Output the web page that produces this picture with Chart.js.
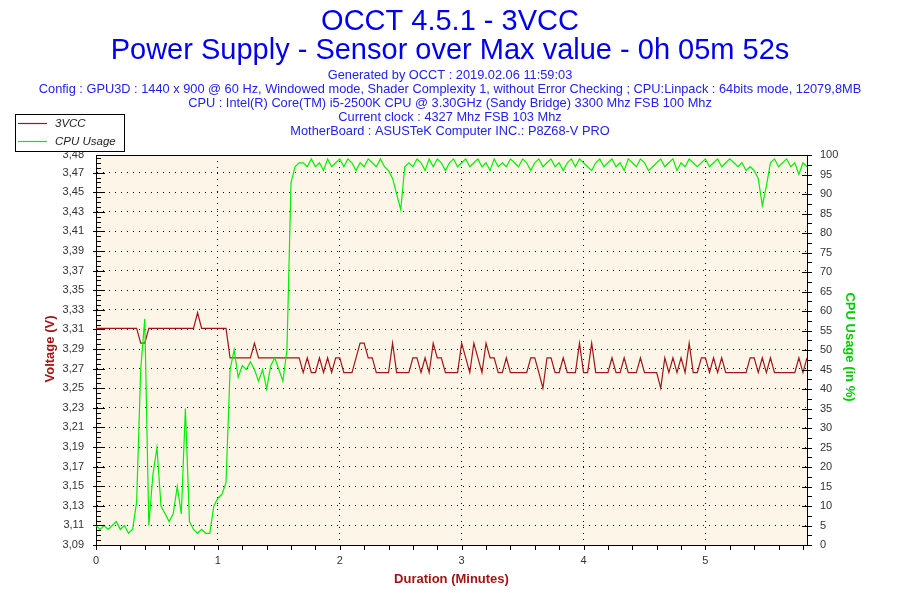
<!DOCTYPE html>
<html>
<head>
<meta charset="utf-8">
<script src="https://cdn.jsdelivr.net/npm/chart.js@4.4.0/dist/chart.umd.min.js"></script>
<style>
  html, body { margin: 0; padding: 0; background: #fff; }
  #wrap { width: 900px; height: 600px; }
</style>
</head>
<body>
<div id="wrap"><canvas id="occtChart" width="900" height="600"></canvas></div>
<script>
// one sample every 2 seconds
var sampleSeconds = 2;

// 3VCC voltage (V)
var vcc3 = [
  3.311, 3.311, 3.311, 3.311, 3.311, 3.311, 3.311, 3.311, 3.311, 3.311, 3.311,
  3.296, 3.296,
  3.311, 3.311, 3.311, 3.311, 3.311, 3.311, 3.311, 3.311, 3.311, 3.311, 3.311, 3.311,
  3.327,
  3.311, 3.311, 3.311, 3.311, 3.311, 3.311, 3.311,
  3.281, 3.281, 3.281, 3.281, 3.281, 3.281,
  3.296,
  3.281, 3.281, 3.281, 3.281, 3.281, 3.281, 3.281, 3.281, 3.281, 3.281, 3.281,
  3.266, 3.281, 3.266, 3.266, 3.281, 3.266, 3.281, 3.266, 3.281, 3.281,
  3.266, 3.266, 3.266, 3.281, 3.296, 3.296, 3.281, 3.281, 3.266, 3.266,
  3.266, 3.266, 3.296, 3.266, 3.266, 3.266, 3.266, 3.281, 3.281, 3.266,
  3.281, 3.266, 3.296, 3.281, 3.281, 3.266, 3.266, 3.266, 3.266, 3.296,
  3.281, 3.266, 3.296, 3.281, 3.266, 3.296, 3.281, 3.281, 3.266, 3.266,
  3.281, 3.266, 3.266, 3.266, 3.266, 3.266, 3.281, 3.281, 3.266, 3.250,
  3.281, 3.281, 3.266, 3.266, 3.281, 3.266, 3.266, 3.266, 3.296, 3.266,
  3.266, 3.296, 3.266, 3.266, 3.266, 3.266, 3.281, 3.266, 3.266, 3.281,
  3.266, 3.266, 3.266, 3.281, 3.266, 3.266, 3.266, 3.266, 3.250, 3.281,
  3.266, 3.281, 3.266, 3.281, 3.266, 3.296, 3.266, 3.266, 3.281, 3.281,
  3.266, 3.281, 3.266, 3.281, 3.266, 3.266, 3.266, 3.266, 3.266, 3.266,
  3.281, 3.281, 3.266, 3.281, 3.266, 3.281, 3.266, 3.266, 3.266, 3.266,
  3.266, 3.266, 3.281, 3.266, 3.281
];

// CPU usage (%)
var cpuUsage = [
  5, 4, 5, 4, 5, 6, 4, 5, 3, 4,
  11, 45, 58, 5, 18, 25, 10, 8, 6, 8,
  15, 8, 35, 6, 4, 3, 4, 3, 3, 10,
  12, 13, 16, 45, 50, 43, 46, 45, 47, 45,
  42, 45, 40, 46, 48, 45, 42, 50, 93, 97,
  98,
  98, 97, 99, 97, 98, 96, 99, 97, 98, 99,
  97, 99, 98, 96, 98, 97, 99, 98, 97, 99,
  97, 96, 94, 90, 86, 97, 98, 97, 99, 98,
  96, 99, 97, 99, 98, 96, 98, 99, 97, 98,
  99, 97, 98, 99, 97, 98, 96, 99, 97, 98,
  97, 99, 98, 97, 99, 98, 96, 98, 99, 97,
  98, 99, 97, 98, 96, 98, 99, 97, 99, 98,
  97, 96, 98, 99, 97, 98, 99, 97, 98, 96,
  99, 98, 97, 99, 98, 96, 97, 98, 99, 97,
  98, 99, 96, 98, 97, 99, 98, 97, 98, 99,
  97, 98, 99, 97, 98, 99, 98, 97, 98, 96,
  97, 96, 94, 87, 92, 98, 99, 97, 98, 99,
  97, 98, 95, 98, 97
];

// tick labels
var voltTicks = [3.09, 3.11, 3.13, 3.15, 3.17, 3.19, 3.21, 3.23, 3.25, 3.27,
                 3.29, 3.31, 3.33, 3.35, 3.37, 3.39, 3.41, 3.43, 3.45, 3.47];
var voltMin = 3.09;
var voltMax = 3.488;
var minuteTicks = [0, 1, 2, 3, 4, 5];

var titleLines = ['OCCT 4.5.1 - 3VCC', 'Power Supply - Sensor over Max value - 0h 05m 52s'];
var infoLines = [
  'Generated by OCCT : 2019.02.06 11:59:03',
  'Config : GPU3D : 1440 x 900 @ 60 Hz, Windowed mode, Shader Complexity 1, without Error Checking ; CPU:Linpack : 64bits mode, 12079,8MB',
  'CPU : Intel(R) Core(TM) i5-2500K CPU @ 3.30GHz (Sandy Bridge) 3300 Mhz FSB 100 Mhz',
  'Current clock : 4327 Mhz FSB 103 Mhz',
  'MotherBoard : ASUSTeK Computer INC.: P8Z68-V PRO'
];

var RED = '#a01515';
var GREEN = '#00f000';
var FONT = '"Liberation Sans", Arial, sans-serif';

function toPoints(arr) {
  return arr.map(function (v, i) { return { x: i * sampleSeconds / 60, y: v }; });
}

function fmtVolt(v) {
  return (Math.floor(v * 100 + 1e-6) / 100).toFixed(2).replace('.', ',');
}

// background, frame, minor ticks, titles and legend
var occtDecor = {
  id: 'occtDecor',
  beforeDraw: function (chart) {
    var ctx = chart.ctx, ca = chart.chartArea;
    ctx.save();
    ctx.fillStyle = '#fff';
    ctx.fillRect(0, 0, chart.width, chart.height);
    ctx.fillStyle = '#fdf6e8';
    ctx.fillRect(ca.left, ca.top, ca.right - ca.left, ca.bottom - ca.top);
    ctx.restore();
  },
  afterDraw: function (chart) {
    var ctx = chart.ctx, ca = chart.chartArea;
    var sy = chart.scales.y, sy1 = chart.scales.y1, sx = chart.scales.x;
    var k, p;
    ctx.save();
    ctx.strokeStyle = '#000';
    ctx.lineWidth = 1;
    ctx.beginPath();
    // top frame
    ctx.moveTo(ca.left, Math.round(ca.top) + 0.5);
    ctx.lineTo(ca.right, Math.round(ca.top) + 0.5);
    // left axis ticks every 0.005 V
    for (k = 0; voltMin + k * 0.005 <= voltMax; k++) {
      p = Math.round(sy.getPixelForValue(voltMin + k * 0.005)) + 0.5;
      if (k % 4 === 0) { ctx.moveTo(ca.left - 3, p); ctx.lineTo(ca.left + 9, p); }
      else { ctx.moveTo(ca.left, p); ctx.lineTo(ca.left + 5, p); }
    }
    // right axis ticks every 2.5 %
    for (k = 0; k <= 40; k++) {
      p = Math.round(sy1.getPixelForValue(k * 2.5)) + 0.5;
      if (k % 2 === 0) { ctx.moveTo(ca.right - 5, p); ctx.lineTo(ca.right + 5, p); }
      else { ctx.moveTo(ca.right, p); ctx.lineTo(ca.right + 5, p); }
    }
    // bottom axis ticks every 0.2 min
    for (k = 0; k * 0.2 <= sx.max + 1e-9; k++) {
      p = Math.round(sx.getPixelForValue(k * 0.2)) + 0.5;
      ctx.moveTo(p, ca.bottom);
      ctx.lineTo(p, ca.bottom + 5);
    }
    ctx.stroke();

    // titles
    ctx.textAlign = 'center';
    ctx.textBaseline = 'middle';
    ctx.fillStyle = '#0000ee';
    ctx.font = '29px ' + FONT;
    ctx.fillText(titleLines[0], 450, 22);
    ctx.fillText(titleLines[1], 450, 51);
    ctx.fillStyle = '#2222ee';
    ctx.font = '12.8px ' + FONT;
    infoLines.forEach(function (t, i) { ctx.fillText(t, 450, 75.5 + i * 14); });

    // axis titles
    ctx.font = 'bold 13px ' + FONT;
    ctx.fillStyle = RED;
    ctx.fillText('Duration (Minutes)', (ca.left + ca.right) / 2, 579);
    ctx.save();
    ctx.translate(50, 349);
    ctx.rotate(-Math.PI / 2);
    ctx.fillText('Voltage (V)', 0, 0);
    ctx.restore();
    ctx.save();
    ctx.translate(850, 347);
    ctx.rotate(Math.PI / 2);
    ctx.fillStyle = '#00cc00';
    ctx.fillText('CPU Usage (in %)', 0, 0);
    ctx.restore();

    // legend box
    ctx.fillStyle = '#fff';
    ctx.fillRect(15.5, 114.5, 109, 37);
    ctx.strokeStyle = '#000';
    ctx.strokeRect(15.5, 114.5, 109, 37);
    var items = chart.data.datasets;
    items.forEach(function (ds, i) {
      var ly = 123.5 + i * 18;
      ctx.strokeStyle = ds.borderColor;
      ctx.lineWidth = 1.2;
      ctx.beginPath();
      ctx.moveTo(18, ly);
      ctx.lineTo(47, ly);
      ctx.stroke();
      ctx.fillStyle = '#222';
      ctx.textAlign = 'left';
      ctx.font = 'italic 11.5px ' + FONT;
      ctx.fillText(ds.label, 55, ly);
    });
    ctx.restore();
  }
};

var ctx = document.getElementById('occtChart').getContext('2d');
var occtChart = new Chart(ctx, {
  type: 'line',
  data: {
    datasets: [
      {
        label: '3VCC',
        data: toPoints(vcc3),
        yAxisID: 'y',
        borderColor: RED,
        borderWidth: 1.2,
        pointRadius: 0,
        tension: 0,
        order: 2
      },
      {
        label: 'CPU Usage',
        data: toPoints(cpuUsage),
        yAxisID: 'y1',
        borderColor: GREEN,
        borderWidth: 1.2,
        pointRadius: 0,
        tension: 0,
        order: 1
      }
    ]
  },
  options: {
    responsive: false,
    devicePixelRatio: 1,
    animation: false,
    layout: { padding: { top: 155, left: 0, right: 0, bottom: 0 } },
    plugins: {
      legend: { display: false },
      title: { display: false },
      tooltip: { enabled: false }
    },
    scales: {
      x: {
        type: 'linear',
        min: 0,
        max: (vcc3.length - 1) * sampleSeconds / 60,
        afterBuildTicks: function (scale) {
          scale.ticks = minuteTicks.map(function (v) { return { value: v }; });
        },
        afterFit: function (scale) { scale.height = 55; },
        ticks: {
          color: '#333',
          font: { family: FONT, size: 11 },
          padding: 9,
          maxRotation: 0,
          callback: function (v) { return String(v); }
        },
        grid: { color: '#000', lineWidth: 1, drawTicks: false },
        border: { display: true, color: '#000', width: 1, dash: [1, 5] }
      },
      y: {
        position: 'left',
        min: voltMin,
        max: voltMax,
        afterBuildTicks: function (scale) {
          scale.ticks = voltTicks.concat([voltMax]).map(function (v) { return { value: v }; });
        },
        afterFit: function (scale) { scale.width = 96; },
        ticks: {
          color: '#333',
          font: { family: FONT, size: 11 },
          padding: 12,
          callback: function (v) { return fmtVolt(v); }
        },
        grid: { color: '#000', lineWidth: 1, drawTicks: false },
        border: { display: true, color: '#000', width: 1, dash: [1, 5] }
      },
      y1: {
        position: 'right',
        min: 0,
        max: 100,
        ticks: {
          stepSize: 5,
          color: '#333',
          font: { family: FONT, size: 11 },
          padding: 13
        },
        afterFit: function (scale) { scale.width = 93; },
        grid: { display: false, drawTicks: false },
        border: { display: true, color: '#000', width: 1 }
      }
    }
  },
  plugins: [occtDecor]
});
</script>
</body>
</html>
